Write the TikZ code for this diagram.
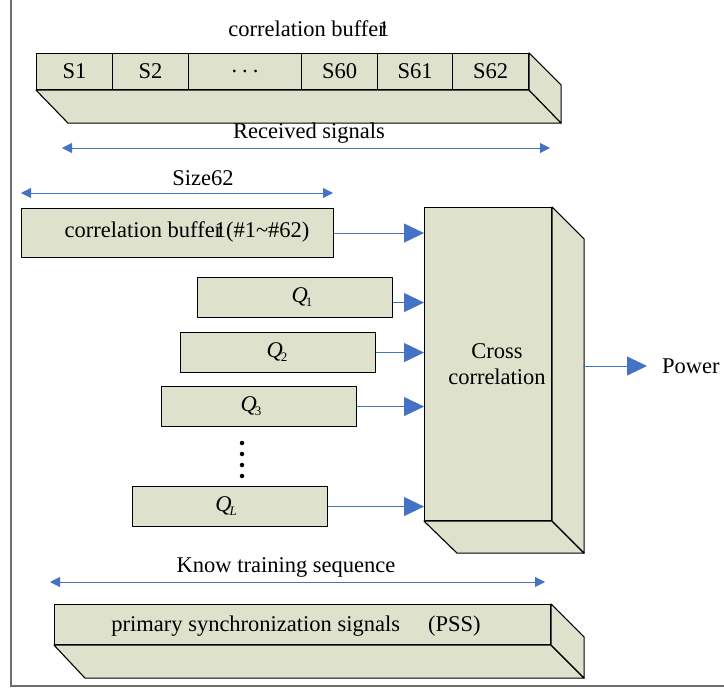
\documentclass[tikz,border=0pt]{standalone}
\usepackage{fontspec}
\setmainfont{Liberation Serif}
\usetikzlibrary{arrows.meta,calc}
\definecolor{boxfill}{RGB}{222,225,204}
\definecolor{linkblue}{RGB}{68,114,196}
\definecolor{framegray}{RGB}{110,110,110}
\begin{document}
\begin{tikzpicture}[x=1pt,y=-1pt,
  every node/.style={font=\fontsize{22.5}{26}\selectfont},
  face/.style={draw=black,fill=boxfill,line width=1.1pt,line join=round},
  blockbox/.style={face,rectangle,inner sep=0pt,anchor=north west},
  cellbox/.style={blockbox,minimum height=36pt},
  qbox/.style={blockbox,minimum width=195pt,minimum height=40pt},
  feed/.style={draw=linkblue,line width=0.9pt,-{Triangle[length=20pt,width=19pt]}},
  span/.style={draw=linkblue,line width=0.9pt,{Triangle[length=10pt,width=10pt]}-{Triangle[length=10pt,width=10pt]}},
  txt/.style={inner sep=0pt},
  dot/.style={circle,fill=black,inner sep=0pt,minimum size=4.5pt}]
\useasboundingbox (0,0) rectangle (724,693);

% outer frame (left and bottom edges)
\draw[framegray,line width=1.2pt] (11,0) -- (11,686) -- (724,686);

% ---- received-signal buffer S1 ... S62 ----
\node[txt] (buftitle) at (309,29) {correlation buffe\rlap{r}1};
\node[cellbox,minimum width=76pt]  (s1)  at (36,53)  {S1};
\node[cellbox,minimum width=76pt]  (s2)  at (112,53) {S2};
\node[cellbox,minimum width=113pt] (sd)  at (188,53) {.\hspace{5pt}.\hspace{5pt}.};
\node[cellbox,minimum width=76pt]  (s60) at (301,53) {S60};
\node[cellbox,minimum width=75pt]  (s61) at (377,53) {S61};
\node[cellbox,minimum width=76pt]  (s62) at (452,53) {S62};
\draw[face] (s1.south west) -- (s62.south east) -- ($(s62.south east)+(32,33)$)
  -- ($(s1.south west)+(32,33)$) -- cycle;
\draw[face] (s62.north east) -- ($(s62.north east)+(32,32)$)
  -- ($(s62.south east)+(32,33)$) -- (s62.south east) -- cycle;

\node[txt] (recvlabel) at (309,133) {Received signals};
\coordinate (recvl) at (62,148);
\coordinate (recvr) at (550,148);
\draw[span] (recvl) -- (recvr);

% ---- local buffer of 62 samples ----
\node[txt] (sizelabel) at (203,178) {Size62};
\coordinate (sizel) at (21,193);
\coordinate (sizer) at (333,193);
\draw[span] (sizel) -- (sizer);
\node[blockbox,minimum width=312pt,minimum height=49pt] (cb) at (21,208) {};
\node[txt] (cbtext) at (187,232) {correlation buffe\rlap{r}1(\#1\textasciitilde\#62)};

% ---- training sequences Q ----
\node[qbox] (q1) at (197,277) {};
\node[txt] (q1t) at (302,297) {\textit{Q}\kern-2pt\raisebox{-4pt}{\fontsize{13}{13}\selectfont 1}};
\node[qbox] (q2) at (180,332) {};
\node[txt] (q2t) at (277,352) {\textit{Q}\kern-2pt\raisebox{-4pt}{\fontsize{13}{13}\selectfont 2}};
\node[qbox] (q3) at (161,386) {};
\node[txt] (q3t) at (251,406) {\textit{Q}\kern-2pt\raisebox{-4pt}{\fontsize{13}{13}\selectfont 3}};
\node[qbox] (ql) at (132,486) {};
\node[txt] (qlt) at (226,506) {\textit{Q}\kern-2pt\raisebox{-4pt}{\fontsize{13}{13}\selectfont\itshape L}};
\foreach \yy [count=\i] in {443,454,465,476}
  \node[dot] (vd\i) at (242,\yy) {};

% ---- cross correlation block ----
\node[blockbox,minimum width=127pt,minimum height=313pt] (cross) at (424,207) {};
\draw[face] (cross.south west) -- (cross.south east) -- ($(cross.south east)+(32,32)$)
  -- ($(cross.south west)+(33,32)$) -- cycle;
\draw[face] (cross.north east) -- ($(cross.north east)+(32,32)$)
  -- ($(cross.south east)+(32,32)$) -- (cross.south east) -- cycle;
\node[txt,align=center] (crosstext) at (497,364) {Cross\\correlation};

\draw[feed] (cb.east) -- (cb.east -| cross.west);
\draw[feed] ([yshift=-5pt]q1.east) -- ([yshift=-5pt]q1.east -| cross.west);
\draw[feed] (q2.east) -- (q2.east -| cross.west);
\draw[feed] (q3.east) -- (q3.east -| cross.west);
\draw[feed] (ql.east) -- (ql.east -| cross.west);

\coordinate (crossout) at (583,366);
\node[txt,anchor=west] (power) at (662,366) {Power};
\draw[feed,shorten >=15pt] (crossout) -- (power.west);

% ---- known training sequence (PSS) ----
\node[txt] (knowlabel) at (286,567) {Know training sequence};
\coordinate (knowl) at (50,582);
\coordinate (knowr) at (545,582);
\draw[span] (knowl) -- (knowr);
\node[blockbox,minimum width=496pt,minimum height=40pt] (pss) at (54,604) {};
\draw[face] (pss.south west) -- (pss.south east) -- ($(pss.south east)+(33,33)$)
  -- ($(pss.south west)+(31,33)$) -- cycle;
\draw[face] (pss.north east) -- ($(pss.north east)+(33,33)$)
  -- ($(pss.south east)+(33,33)$) -- (pss.south east) -- cycle;
\node[txt] (psstext) at (296,626) {primary synchronization signals\hspace{28pt}(PSS)};
\end{tikzpicture}
\end{document}
